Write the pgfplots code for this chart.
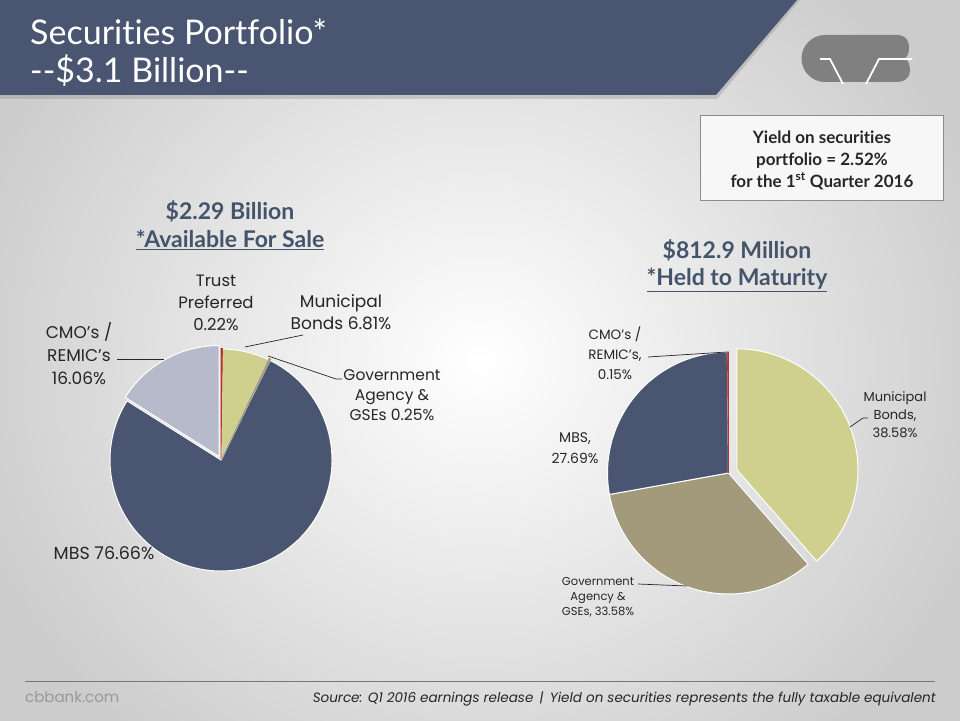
\documentclass[border=0pt]{standalone}
\usepackage{pgfplots}
\pgfplotsset{compat=1.18}
\usepackage{pgfplotstable}
\usepackage{graphicx}
\usepackage{fontspec}
\setmainfont{Poppins}
\newfontfamily\lato[Ligatures={NoCommon,NoContextual}]{Lato}

\definecolor{slate}{HTML}{4A5571}
\definecolor{headc}{HTML}{44546A}
\definecolor{muni}{HTML}{CFCF8E}
\definecolor{gov}{HTML}{A39A7B}
\definecolor{cmo}{HTML}{B7BACB}
\definecolor{trust}{HTML}{B8322E}
\definecolor{logo}{HTML}{808080}
\definecolor{txt}{HTML}{262626}

% Available for sale (clockwise from 12 o'clock)
\pgfplotstableread{
slice share
Trust 0.22
Municipal 6.81
Government 0.25
MBS 76.66
CMO 16.06
}\afstable
% Held to maturity (clockwise from 12 o'clock)
\pgfplotstableread{
slice share
Municipal 38.58
Government 33.58
MBS 27.69
CMO 0.15
}\htmtable

\newcommand\getv[3]{\pgfplotstablegetelem{#1}{share}\of#2\global\let#3\pgfplotsretval}
\getv{0}{\afstable}{\aA}\getv{1}{\afstable}{\aB}\getv{2}{\afstable}{\aC}\getv{3}{\afstable}{\aD}\getv{4}{\afstable}{\aE}
\getv{0}{\htmtable}{\hA}\getv{1}{\htmtable}{\hB}\getv{2}{\htmtable}{\hC}\getv{3}{\htmtable}{\hD}

% cx cy r cumstart cumend style explode
\newcommand\slice[7]{%
 \pgfmathsetmacro\sa{90-3.6*(#4)}%
 \pgfmathsetmacro\ea{90-3.6*(#5)}%
 \pgfmathsetmacro\ma{(\sa+\ea)/2}%
 \pgfmathsetmacro\ox{#1+#7*cos(\ma)}%
 \pgfmathsetmacro\oy{#2+#7*sin(\ma)}%
 \edef\tmp{\noexpand\fill[#6] (axis cs:\ox,\oy) -- ++(\sa:#3pt) arc[start angle=\sa, end angle=\ea, radius=#3pt] -- cycle;}%
 \tmp}

\begin{document}
\begin{tikzpicture}[x=1pt,y=1pt]
\useasboundingbox (0,0) rectangle (960,720);
\shade[inner color=white, outer color=black!20] (-60,-140) rectangle (1020,860);
% title bar
\fill[black!45, opacity=0.35] (0,720) -- (800,720) -- (717,621) -- (0,621) -- cycle;
\fill[slate] (0,720) -- (797,720) -- (716,625) -- (0,625) -- cycle;
\node[anchor=base west, text=white, inner sep=0pt] at (30,675) {\lato\fontsize{34}{38}\selectfont Securities Portfolio*};
\node[anchor=base west, text=white, inner sep=0pt] at (30,637) {\lato\fontsize{34}{38}\selectfont -{}-\$3.1 Billion-{}-};
% logo
\fill[logo] (825,685) -- (898,685) to[out=0,in=90] (909,674) to[out=-90,in=0] (903,661.5)
  to[out=0,in=90] (910,649) to[out=-90,in=0] (898,638) -- (825,638)
  arc[start angle=-90, end angle=-270, radius=23.5] -- cycle;
\draw[white, line width=1.8pt] (820,661) -- (830,661) -- (843,636);
\draw[white, line width=1.8pt] (866,636) -- (879,661) -- (912,661);
% yield box
\fill[white!97!black] (700,520) rectangle (943,605);
\draw[black!45, line width=0.8pt] (700,520) rectangle (943,605);
\node[text=txt, align=center, font=\lato\bfseries\fontsize{17}{22}\selectfont] at (822,560) {Yield on securities\\portfolio = 2.52\%\\for the 1\textsuperscript{st} Quarter 2016};
% headings
\node[text=headc, font=\lato\bfseries\fontsize{23}{28}\selectfont] at (230,509) {\$2.29 Billion};
\node[text=headc, font=\lato\bfseries\fontsize{23}{28}\selectfont] at (230,480) {\underline{*Available For Sale}};
\node[text=headc, font=\lato\bfseries\fontsize{23}{28}\selectfont] at (737,470) {\$812.9 Million};
\node[text=headc, font=\lato\bfseries\fontsize{23}{28}\selectfont] at (737,440) {\underline{*Held to Maturity}};

\begin{axis}[at={(0,0)}, anchor=south west, scale only axis, width=960pt, height=720pt,
  xmin=0, xmax=960, ymin=0, ymax=720, hide axis, clip=false]
 % left pie: centre (221,260), r=111
 \pgfmathsetmacro\cA{0}
 \pgfmathsetmacro\cB{\aA}
 \pgfmathsetmacro\cC{\aA+\aB}
 \pgfmathsetmacro\cD{\aA+\aB+\aC}
 \pgfmathsetmacro\cE{\aA+\aB+\aC+\aD}
 \slice{221}{260}{111}{\cD}{\cE}{fill=slate, draw=white, line width=1pt, line join=round}{0}
 \slice{221}{260}{111}{\cE}{100}{fill=cmo, draw=white, line width=1pt, line join=round}{4}
 \slice{221}{260}{111}{\cB}{\cC}{fill=muni, draw=white, line width=1pt, line join=round}{0}
 \slice{221}{260}{111}{\cC}{\cD}{fill=gov, draw=gov, line width=0.6pt}{1.5}
 \slice{221}{260}{111}{\cA}{\cB}{fill=trust, draw=trust, line width=0.6pt}{0.5}
 % right pie: centre (728.5,247), r=121
 \pgfmathsetmacro\dB{\hA}
 \pgfmathsetmacro\dC{\hA+\hB}
 \pgfmathsetmacro\dD{\hA+\hB+\hC}
 \slice{728.5}{247}{121}{\dB}{\dC}{fill=gov, draw=white, line width=1pt, line join=round}{0}
 \slice{728.5}{247}{121}{\dC}{\dD}{fill=slate, draw=white, line width=1pt, line join=round}{0}
 \slice{728.5}{247}{121}{0}{\dB}{fill=muni, draw=white, line width=1pt, line join=round}{9}
 \slice{728.5}{247}{121}{\dD}{100}{fill=trust, draw=trust, line width=0.6pt}{0}
\end{axis}

% left pie labels
\begin{scope}[every node/.style={text=txt, align=center, inner sep=0pt}]
\node[font=\fontsize{16.5}{22}\selectfont] at (216,417) {Trust\\Preferred\\0.22\%};
\node[font=\fontsize{17}{22}\selectfont] at (341,408) {Municipal\\Bonds 6.81\%};
\node[font=\fontsize{15.5}{20}\selectfont] at (392,325) {Government\\Agency \&\\GSEs 0.25\%};
\node[font=\fontsize{17}{23}\selectfont] at (79,366) {CMO's /\\REMIC's\\16.06\%};
\node[font=\fontsize{17.5}{20}\selectfont] at (104,167) {MBS 76.66\%};
\draw[txt, line width=0.7pt] (303,385) -- (245,373);
\draw[txt, line width=0.7pt] (268,364) -- (336,341) -- (342,341);
\draw[txt, line width=0.7pt] (117,361) -- (164,361);
% right pie labels
\node[font=\fontsize{13.5}{20}\selectfont] at (615,367) {CMO's /\\REMIC's,\\0.15\%};
\node[font=\fontsize{13}{18}\selectfont] at (895,305) {Municipal\\Bonds,\\38.58\%};
\node[font=\fontsize{14}{21}\selectfont] at (575,271.5) {MBS,\\27.69\%};
\node[font=\fontsize{11.5}{15}\selectfont] at (598,123) {Government\\Agency \&\\GSEs, 33.58\%};
\draw[txt, line width=0.7pt] (648,363) -- (727,368);
\draw[txt, line width=0.7pt] (850,293) -- (863,302) -- (868,302);
\draw[txt, line width=0.7pt] (638,136) -- (687,134);
\end{scope}

% footer
\draw[slate!80, line width=1pt] (25,39) -- (935,39);
\node[anchor=base west, inner sep=0pt, text=black!40, font=\fontsize{15}{18}\selectfont] at (25,18) {cbbank.com};
\node[anchor=base east, inner sep=0pt, text=txt] at (936,18) {\resizebox{623pt}{!}{\itshape\fontsize{14}{16}\selectfont Source: Q1 2016 earnings release \,|\, Yield on securities represents the fully taxable equivalent}};
\end{tikzpicture}
\end{document}
